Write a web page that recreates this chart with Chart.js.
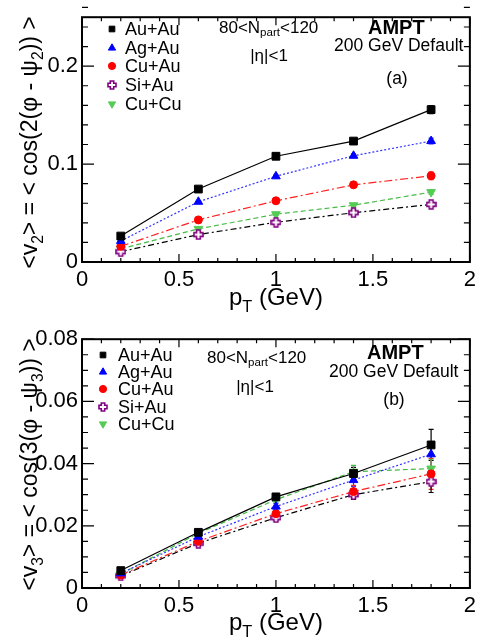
<!DOCTYPE html>
<html>
<head>
<meta charset="utf-8">
<script src="https://cdn.jsdelivr.net/npm/chart.js@4.4.0/dist/chart.umd.min.js"></script>
<style>
  body { margin: 0; background: #fff; }
  .panel { position: relative; width: 481px; height: 322px; }
</style>
</head>
<body>
<div class="panel"><canvas id="v2chart"></canvas></div>
<div class="panel"><canvas id="v3chart"></canvas></div>
<script>
// data
const pt = [0.2, 0.6, 1.0, 1.4, 1.8];
const systems = ['Au+Au', 'Ag+Au', 'Cu+Au', 'Si+Au', 'Cu+Cu'];

const v2AuAu = [0.0265, 0.0745, 0.108, 0.1235, 0.1556];
const v2AgAu = [0.0215, 0.0615, 0.0875, 0.1085, 0.1235];
const v2CuAu = [0.016, 0.043, 0.0625, 0.0788, 0.088];
const v2SiAu = [0.0105, 0.028, 0.0405, 0.0503, 0.0588];
const v2CuCu = [0.0135, 0.0338, 0.0488, 0.058, 0.0714];
const v2ErrAuAu = [0.001, 0.0015, 0.002, 0.002, 0.004];
const v2ErrAgAu = [0.001, 0.001, 0.0015, 0.002, 0.003];
const v2ErrCuAu = [0.001, 0.001, 0.0015, 0.002, 0.004];
const v2ErrSiAu = [0.001, 0.001, 0.0015, 0.0015, 0.002];
const v2ErrCuCu = [0.001, 0.001, 0.0015, 0.0015, 0.002];

const v3AuAu = [0.0056, 0.0179, 0.0293, 0.0368, 0.046];
const v3AgAu = [0.0047, 0.0165, 0.0262, 0.0347, 0.043];
const v3CuAu = [0.0042, 0.015, 0.0239, 0.031, 0.0367];
const v3SiAu = [0.0039, 0.0144, 0.0226, 0.030, 0.0342];
const v3CuCu = [0.0045, 0.0176, 0.0284, 0.0374, 0.0384];
const v3ErrAuAu = [0.0005, 0.0008, 0.001, 0.002, 0.005];
const v3ErrAgAu = [0.0005, 0.0008, 0.001, 0.002, 0.004];
const v3ErrCuAu = [0.0005, 0.0008, 0.001, 0.002, 0.005];
const v3ErrSiAu = [0.0005, 0.0008, 0.001, 0.0015, 0.0035];
const v3ErrCuCu = [0.0005, 0.0008, 0.001, 0.002, 0.003];

const xTicks = [0, 0.5, 1, 1.5, 2];
const v2Ticks = [0, 0.1, 0.2];
const v3Ticks = [0, 0.02, 0.04, 0.06, 0.08];

// styles
const FONT = "'Liberation Sans', Arial, sans-serif";
const markerColors = ['#000000', '#0000ff', '#ff0000', '#800080', '#55cc55'];
const lineColors = ['#000000', '#3333ff', '#ff2222', '#000000', '#44bb44'];
const dashes = [[], [2, 2], [8, 3, 2, 3], [6, 3, 2, 3], [5, 3]];

// open cross marker
function openCross(size, color) {
  const c = document.createElement('canvas');
  c.width = size; c.height = size;
  const g = c.getContext('2d');
  const m = size / 2, o = size / 2 - 1, a = size * 0.17;
  g.beginPath();
  g.moveTo(m - a, m - o); g.lineTo(m + a, m - o); g.lineTo(m + a, m - a);
  g.lineTo(m + o, m - a); g.lineTo(m + o, m + a); g.lineTo(m + a, m + a);
  g.lineTo(m + a, m + o); g.lineTo(m - a, m + o); g.lineTo(m - a, m + a);
  g.lineTo(m - o, m + a); g.lineTo(m - o, m - a); g.lineTo(m - a, m - a);
  g.closePath();
  g.fillStyle = '#fff'; g.fill();
  g.strokeStyle = color; g.lineWidth = 1.6; g.stroke();
  return c;
}
const crossBig = openCross(11, '#800080');
const crossSmall = openCross(10, '#800080');

const pointStyles = ['rect', 'triangle', 'circle', crossBig, 'triangle'];
const legendStyles = ['rect', 'triangle', 'circle', crossSmall, 'triangle'];
const rotations = [0, 0, 0, 0, 180];
const radii = [5.5, 5, 4, 5, 5];
const legendRadii = [4, 4.2, 3.6, 4, 4.2];

function richText(ctx, parts, x, y, size, align) {
  const widths = parts.map(p => {
    ctx.font = (p.bold ? 'bold ' : '') + (p.sub ? size * 0.68 : size) + 'px ' + FONT;
    return ctx.measureText(p.t).width;
  });
  const total = widths.reduce((a, b) => a + b, 0);
  let cx = align === 'right' ? x - total : align === 'center' ? x - total / 2 : x;
  parts.forEach((p, i) => {
    ctx.font = (p.bold ? 'bold ' : '') + (p.sub ? size * 0.68 : size) + 'px ' + FONT;
    ctx.textAlign = 'left';
    ctx.fillText(p.t, cx, y + (p.sub ? size * 0.28 : 0));
    cx += widths[i];
  });
}

function makeOverlay(panel) {
  return {
    id: 'overlay',
    beforeDatasetsDraw(chart) {
      const ctx = chart.ctx, xs = chart.scales.x, ys = chart.scales.y;
      chart.data.datasets.forEach((ds, i) => {
        ctx.save();
        ctx.strokeStyle = lineColors[i];
        ctx.lineWidth = 1.2;
        ds.data.forEach((p, k) => {
          const e = panel.errors[i][k];
          const px = xs.getPixelForValue(p.x);
          const y1 = ys.getPixelForValue(p.y - e), y2 = ys.getPixelForValue(p.y + e);
          ctx.beginPath();
          ctx.moveTo(px, y1); ctx.lineTo(px, y2);
          ctx.moveTo(px - 2.5, y1); ctx.lineTo(px + 2.5, y1);
          ctx.moveTo(px - 2.5, y2); ctx.lineTo(px + 2.5, y2);
          ctx.stroke();
        });
        ctx.restore();
      });
    },
    afterDraw(chart) {
      const ctx = chart.ctx, a = chart.chartArea, xs = chart.scales.x, ys = chart.scales.y;
      ctx.save();
      // frame
      ctx.strokeStyle = '#000';
      ctx.lineWidth = 2;
      ctx.strokeRect(a.left, a.top, a.right - a.left, a.bottom - a.top);
      // inner ticks on all sides
      ctx.lineWidth = 1.2;
      ctx.beginPath();
      for (let i = 0; i <= 20; i++) {
        const v = i * 0.1;
        const px = xs.getPixelForValue(v);
        const len = i % 5 === 0 ? 8 : 4;
        ctx.moveTo(px, a.bottom); ctx.lineTo(px, a.bottom - len);
        ctx.moveTo(px, a.top); ctx.lineTo(px, a.top + len);
      }
      const nMinor = Math.round(panel.yMax / panel.yMinor);
      for (let i = 0; i <= nMinor; i++) {
        const v = i * panel.yMinor;
        const py = ys.getPixelForValue(v);
        const len = i % panel.perMajor === 0 ? 12 : 6;
        ctx.moveTo(a.left, py); ctx.lineTo(a.left + len, py);
        ctx.moveTo(a.right, py); ctx.lineTo(a.right - len, py);
      }
      ctx.stroke();

      ctx.fillStyle = '#000';
      ctx.textBaseline = 'alphabetic';
      // x title
      richText(ctx, [{t: 'p'}, {t: 'T', sub: true}, {t: ' (GeV)'}],
        (a.left + a.right) / 2, panel.xTitleY, 24, 'center');
      // y title, rotated
      ctx.save();
      ctx.translate(37, a.top - 1);
      ctx.rotate(-Math.PI / 2);
      const n = panel.n;
      richText(ctx, [{t: '<v'}, {t: n, sub: true}, {t: '> = < cos(' + n + '(\u03c6 - \u03c8'},
        {t: n, sub: true}, {t: ')) >'}], 0, 0, 23, 'right');
      ctx.restore();

      // legend
      ctx.textBaseline = 'middle';
      systems.forEach((name, i) => {
        const ly = panel.legendY[i];
        ctx.fillStyle = markerColors[i];
        ctx.strokeStyle = markerColors[i];
        ctx.lineWidth = 1;
        Chart.helpers.drawPoint(ctx, {
          pointStyle: legendStyles[i], radius: legendRadii[i],
          rotation: rotations[i], borderWidth: 1
        }, panel.legendMarkX, ly);
        ctx.fillStyle = '#000';
        ctx.font = '18px ' + FONT;
        ctx.textAlign = 'left';
        ctx.fillText(name, panel.legendTextX, ly + 1);
      });

      // annotations
      ctx.textBaseline = 'middle';
      ctx.fillStyle = '#000';
      richText(ctx, [{t: '80<N'}, {t: 'part', sub: true}, {t: '<120'}],
        panel.nX, panel.nY, 17, 'left');
      ctx.font = '17px ' + FONT;
      ctx.textAlign = 'center';
      ctx.fillText('|\u03b7|<1', panel.etaX, panel.etaY);
      ctx.font = 'bold 20px ' + FONT;
      ctx.textAlign = 'left';
      ctx.fillText('AMPT', panel.amptX, panel.amptY);
      ctx.font = '17.5px ' + FONT;
      ctx.fillText('200 GeV Default', panel.defX, panel.defY);
      ctx.textAlign = 'center';
      ctx.fillText(panel.tag, panel.tagX, panel.tagY);
      ctx.restore();
    }
  };
}

function makePanel(id, panel) {
  const datasets = systems.map((name, i) => ({
    label: name,
    data: pt.map((x, k) => ({x: x, y: panel.values[i][k]})),
    borderColor: lineColors[i],
    backgroundColor: markerColors[i],
    pointBackgroundColor: markerColors[i],
    pointBorderColor: markerColors[i],
    borderWidth: 1.2,
    borderDash: dashes[i],
    pointStyle: pointStyles[i],
    pointRadius: radii[i],
    pointHoverRadius: radii[i],
    pointRotation: rotations[i],
    pointBorderWidth: 1,
    fill: false,
    tension: 0
  }));

  return new Chart(id, {
    type: 'line',
    data: {datasets: datasets},
    options: {
      responsive: true,
      maintainAspectRatio: false,
      animation: false,
      layout: {padding: {top: panel.top, right: 8, left: 0, bottom: 0}},
      plugins: {legend: {display: false}, tooltip: {enabled: false}},
      scales: {
        x: {
          type: 'linear', min: 0, max: 2,
          grid: {display: false, drawTicks: false}, border: {display: false},
          afterBuildTicks: s => { s.ticks = xTicks.map(v => ({value: v})); },
          afterFit: s => { s.height = panel.xHeight; },
          ticks: {
            padding: 5, color: '#000', maxRotation: 0,
            font: {family: FONT, size: 22},
            callback: v => String(+v.toFixed(3))
          }
        },
        y: {
          type: 'linear', min: 0, max: panel.yMax,
          grid: {display: false, drawTicks: false}, border: {display: false},
          afterBuildTicks: s => { s.ticks = panel.yTicks.map(v => ({value: v})); },
          afterFit: s => { s.width = 82; },
          ticks: {
            padding: 4, color: '#000',
            font: {family: FONT, size: 22},
            callback: v => String(+v.toFixed(3))
          }
        }
      }
    },
    plugins: [makeOverlay(panel)]
  });
}

makePanel('v2chart', {
  values: [v2AuAu, v2AgAu, v2CuAu, v2SiAu, v2CuCu],
  errors: [v2ErrAuAu, v2ErrAgAu, v2ErrCuAu, v2ErrSiAu, v2ErrCuCu],
  yTicks: v2Ticks, yMax: 0.25, yMinor: 0.02, perMajor: 5,
  top: 8, xHeight: 60, xTitleY: 305, n: '2',
  legendMarkX: 112, legendTextX: 125, legendY: [29, 48, 66, 85, 104],
  nX: 219, nY: 28, etaX: 269, etaY: 56,
  amptX: 368, amptY: 28, defX: 334, defY: 46,
  tag: '(a)', tagX: 397, tagY: 79
});

makePanel('v3chart', {
  values: [v3AuAu, v3AgAu, v3CuAu, v3SiAu, v3CuCu],
  errors: [v3ErrAuAu, v3ErrAgAu, v3ErrCuAu, v3ErrSiAu, v3ErrCuCu],
  yTicks: v3Ticks, yMax: 0.08, yMinor: 0.005, perMajor: 4,
  top: 13, xHeight: 56, xTitleY: 308, n: '3',
  legendMarkX: 103, legendTextX: 118, legendY: [33, 50, 67, 85, 102],
  nX: 207, nY: 36, etaX: 255, etaY: 65,
  amptX: 367, amptY: 31, defX: 329, defY: 50,
  tag: '(b)', tagX: 394, tagY: 78
});
</script>
</body>
</html>
